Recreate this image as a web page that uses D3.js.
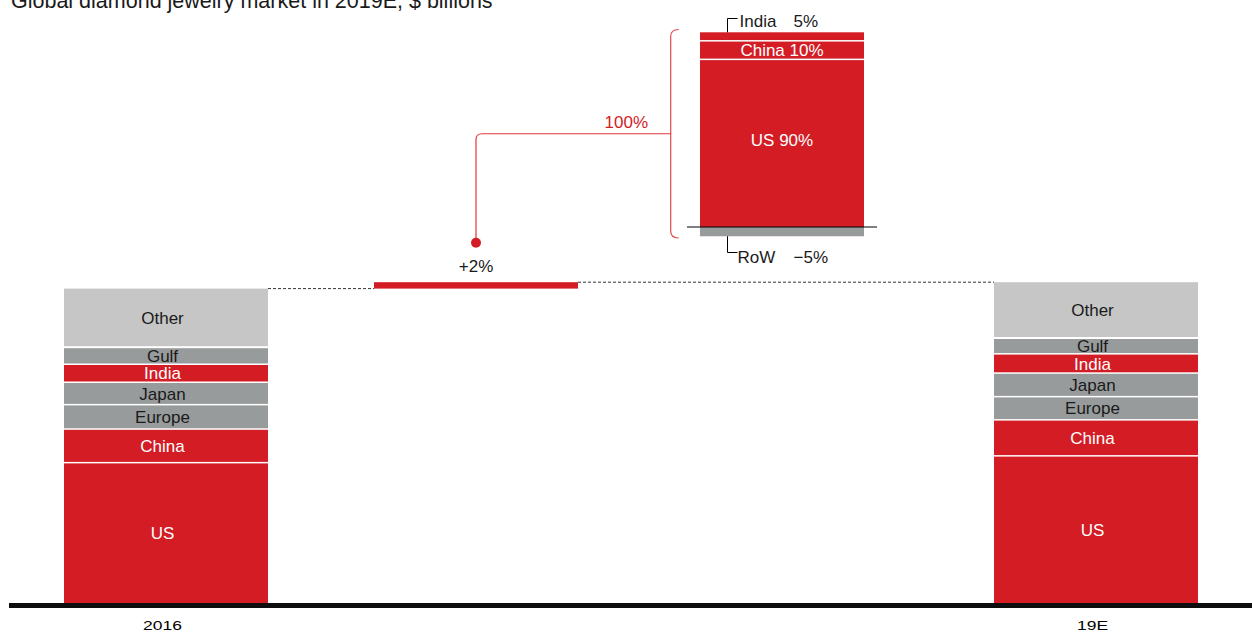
<!DOCTYPE html>
<html>
<head>
<meta charset="utf-8">
<script src="https://cdn.jsdelivr.net/npm/d3@7"></script>
<style>
  html, body { margin: 0; padding: 0; background: #fff; }
  svg { display: block; font-family: "Liberation Sans", Arial, sans-serif; }
</style>
</head>
<body>
<svg id="chart" width="1252" height="633"></svg>
<script>
// ---- data ($ billions) ----
const columns = ["2016", "delta", "mix", "19E"];
const columnLabels = ["2016", "", "", "19E"];
const segments = ["US", "China", "Europe", "Japan", "India", "Gulf", "Other"];
const values2016 = [34.9, 8.4, 6.1, 5.6, 4.5, 4.2, 14.9];
const values2019 = [36.6, 9.0, 5.8, 5.9, 4.8, 3.9, 14.2];
const segmentColor = ["red", "red", "grey", "grey", "red", "grey", "light"];
const growthLabel = "+2%";

// share of growth by market, %
const mixNames = ["US", "China", "India"];
const mixValues = [90, 10, 5];
const mixRowName = "RoW";
const mixRowValue = -5;
const mixTotalLabel = "100%";

const title = "Global diamond jewelry market in 2019E, $ billions";

// ---- styles ----
const RED = "#d31c24", GREY = "#989b9b", LIGHT = "#c5c6c5", INK = "#1a1a1a";
const fills = { red: RED, grey: GREY, light: LIGHT };
const FONT = 17;
const LABEL_SHIFT = -3.5; // column labels sit slightly left of centre

const svg = d3.select("#chart");
const W = 1252, H = 633;
const baseY = 603;

const x = d3.scaleBand().domain(columns).range([64, 1198]).paddingInner(106 / 310).paddingOuter(0);
const y = d3.scaleLinear().domain([0, 100]).range([baseY, baseY - 400]);

// title
svg.append("text").attr("x", 11).attr("y", 8)
  .attr("font-size", 21.5).attr("fill", INK).text(title);

// stacked columns
function stack(col, vals) {
  let acc = 0;
  const g = svg.append("g");
  vals.forEach((v, i) => {
    const y0 = acc, y1 = acc + v; acc = y1;
    const gap = i === 0 ? 0 : (i === vals.length - 1 ? 2 : 1.5);
    const top = y(y1), bot = y(y0) - gap;
    const color = fills[segmentColor[i]];
    g.append("rect").attr("x", x(col)).attr("width", x.bandwidth())
      .attr("y", top).attr("height", Math.max(0, bot - top)).attr("fill", color);
    g.append("text").attr("x", x(col) + x.bandwidth() / 2 + LABEL_SHIFT).attr("y", (top + bot) / 2)
      .attr("dy", "0.36em").attr("text-anchor", "middle").attr("font-size", FONT)
      .attr("fill", segmentColor[i] === "red" ? "#fff" : INK).text(segments[i]);
  });
  return acc;
}
const total2016 = stack("2016", values2016);
const total2019 = stack("19E", values2019);

// growth step
svg.append("rect").attr("x", x("delta")).attr("width", x.bandwidth())
  .attr("y", y(total2019)).attr("height", y(total2016) - y(total2019)).attr("fill", RED);

const dash = "3,2";
svg.append("line").attr("x1", x("2016") + x.bandwidth()).attr("x2", x("delta"))
  .attr("y1", y(total2016)).attr("y2", y(total2016))
  .attr("stroke", "#333").attr("stroke-width", 1).attr("stroke-dasharray", dash);
svg.append("line").attr("x1", x("delta") + x.bandwidth()).attr("x2", x("19E"))
  .attr("y1", y(total2019)).attr("y2", y(total2019))
  .attr("stroke", "#333").attr("stroke-width", 1).attr("stroke-dasharray", dash);

const dcx = x("delta") + x.bandwidth() / 2;
svg.append("text").attr("x", dcx).attr("y", y(total2019) - 10.5)
  .attr("text-anchor", "middle").attr("font-size", FONT).attr("fill", INK).text(growthLabel);

// growth mix column
const mx0 = x("mix") + 16, mx1 = x("mix") + x.bandwidth() - 24;
const my = d3.scaleLinear().domain([0, 105]).range([227, 32.3]);
let acc = 0;
mixValues.forEach((v, i) => {
  const y0 = acc, y1 = acc + v; acc = y1;
  const gap = i === 0 ? 0 : 1.5;
  const top = my(y1), bot = my(y0) - gap;
  svg.append("rect").attr("x", mx0).attr("width", mx1 - mx0)
    .attr("y", top).attr("height", bot - top).attr("fill", RED);
  if (i < 2) {
    svg.append("text").attr("x", (mx0 + mx1) / 2).attr("y", (top + bot) / 2 - (i === 0 ? 4 : 0))
      .attr("dy", "0.36em").attr("text-anchor", "middle").attr("font-size", FONT)
      .attr("fill", "#fff").text(mixNames[i] + " " + v + "%");
  }
});
// rest of world (negative)
svg.append("rect").attr("x", mx0).attr("width", mx1 - mx0)
  .attr("y", my(0)).attr("height", my(mixRowValue) - my(0)).attr("fill", GREY);
svg.append("line").attr("x1", mx0 - 13).attr("x2", mx1 + 13)
  .attr("y1", my(0)).attr("y2", my(0)).attr("stroke", "#000").attr("stroke-width", 1);

// callouts outside the column
const lx = mx0 + 27.5;
const fmtSigned = v => (v < 0 ? "\u2212" + Math.abs(v) : v) + "%";
svg.append("path").attr("fill", "none").attr("stroke", "#000").attr("stroke-width", 1)
  .attr("d", `M${lx},${my(105)} V18.5 H${lx + 10}`);
svg.append("text").attr("x", lx + 12).attr("y", 26.5).attr("font-size", FONT).attr("fill", INK).text(mixNames[2]);
svg.append("text").attr("x", lx + 66).attr("y", 26.5).attr("font-size", FONT).attr("fill", INK).text(fmtSigned(mixValues[2]));

svg.append("path").attr("fill", "none").attr("stroke", "#000").attr("stroke-width", 1)
  .attr("d", `M${lx},${my(mixRowValue)} V252.5 H${lx + 10}`);
svg.append("text").attr("x", lx + 10).attr("y", 262.5).attr("font-size", FONT).attr("fill", INK).text(mixRowName);
svg.append("text").attr("x", lx + 66).attr("y", 262.5).attr("font-size", FONT).attr("fill", INK).text(fmtSigned(mixRowValue));

// brace around the mix column
const bx = 670.7, bTop = 29.5, bBot = 238, r = 7;
const bMid = (bTop + bBot) / 2;
svg.append("path").attr("fill", "none").attr("stroke", "#e2474d").attr("stroke-width", 1.2)
  .attr("d", `M${bx + r + 1},${bTop} Q${bx},${bTop} ${bx},${bTop + r} V${bBot - r} Q${bx},${bBot} ${bx + r + 1},${bBot}`);

// connector from the brace to the growth step
const dotY = 242.7, cr = 6;
svg.append("path").attr("fill", "none").attr("stroke", "#e2373e").attr("stroke-width", 1.2)
  .attr("d", `M${bx},${bMid} H${dcx + cr} Q${dcx},${bMid} ${dcx},${bMid + cr} V${dotY}`);
svg.append("circle").attr("cx", dcx).attr("cy", dotY).attr("r", 5).attr("fill", RED);
svg.append("text").attr("x", 648).attr("y", bMid - 6).attr("text-anchor", "end")
  .attr("font-size", FONT).attr("fill", RED).text(mixTotalLabel);

// baseline and column labels
svg.append("line").attr("x1", 9).attr("x2", W).attr("y1", baseY + 2.5).attr("y2", baseY + 2.5)
  .attr("stroke", "#0d0d0d").attr("stroke-width", 5);
columns.forEach((c, i) => {
  if (!columnLabels[i]) return;
  const cx = x(c) + x.bandwidth() / 2 + LABEL_SHIFT;
  svg.append("text").attr("transform", `translate(${cx},629.5) scale(1,0.76)`)
    .attr("text-anchor", "middle").attr("font-size", 17.5).attr("fill", "#000").text(columnLabels[i]);
});
</script>
</body>
</html>
